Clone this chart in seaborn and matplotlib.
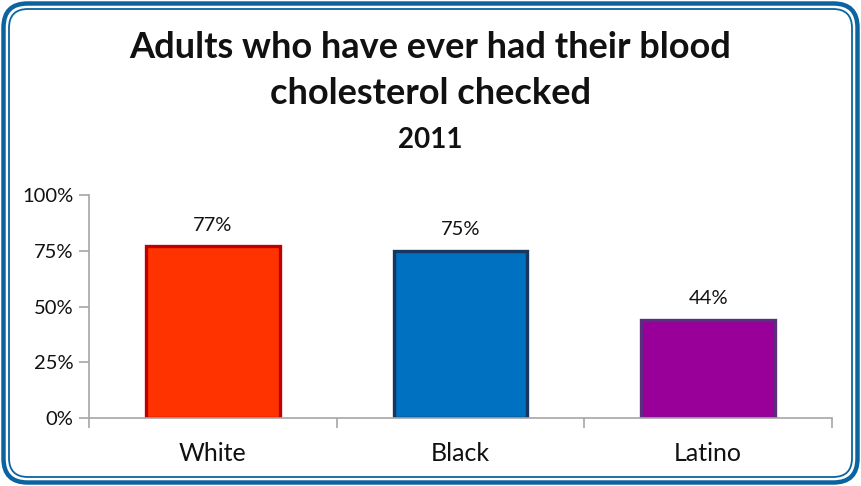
import matplotlib
matplotlib.use("Agg")
import matplotlib.pyplot as plt
from matplotlib.patches import FancyBboxPatch
from matplotlib.ticker import FixedLocator, NullFormatter
import seaborn as sns
import pandas as pd

groups = ["White", "Black", "Latino"]
shares = [77, 75, 44]
fill_colors = ["#ff3300", "#0070c0", "#990099"]
edge_colors = ["#c00000", "#17375e", "#5c2d7e"]
y_ticks = [0, 25, 50, 75, 100]
y_tick_labels = ["0%", "25%", "50%", "75%", "100%"]

sns.set_theme(style="white")
plt.rcParams["font.family"] = ["Lato", "DejaVu Sans"]

W, H = 861, 486
fig = plt.figure(figsize=(W / 100, H / 100), dpi=100)

# rounded double frame around the whole chart
bg = fig.add_axes([0, 0, 1, 1])
bg.set_xlim(0, W)
bg.set_ylim(0, H)
bg.axis("off")
bg.add_patch(FancyBboxPatch((3.5, 3.5), W - 7, H - 7,
                            boxstyle="round,pad=0,rounding_size=24",
                            fill=False, ec="#0b64a0", lw=3.2))
bg.add_patch(FancyBboxPatch((9, 9), W - 18, H - 18,
                            boxstyle="round,pad=0,rounding_size=19",
                            fill=False, ec="#0b64a0", lw=1.3))

ax = fig.add_axes([89 / W, 1 - 418 / H, (832 - 89) / W, (418 - 195) / H])
df = pd.DataFrame({"group": groups, "share": shares})
sns.barplot(data=df, x="group", y="share", hue="group", palette=fill_colors,
            width=0.54, legend=False, ax=ax, saturation=1)

for patch, ec, val in zip(ax.patches, edge_colors, shares):
    patch.set_edgecolor(ec)
    patch.set_linewidth(2.4)
    ax.annotate(f"{val}%", (patch.get_x() + patch.get_width() / 2, val),
                xytext=(0, 9), textcoords="offset points",
                ha="center", va="bottom", fontsize=14.5, color="#111111")

ax.set_xlim(-0.5, 2.5)
ax.set_ylim(0, 100)
ax.set_yticks(y_ticks)
ax.set_yticklabels(y_tick_labels, fontsize=14.5, color="#111111")
ax.set_xticks(range(len(groups)))
ax.set_xticklabels(groups, fontsize=18, color="#111111")
ax.set_xlabel("")
ax.set_ylabel("")

ax.xaxis.set_minor_locator(FixedLocator([-0.5, 0.5, 1.5, 2.5]))
ax.xaxis.set_minor_formatter(NullFormatter())
ax.tick_params(axis="x", which="major", length=0, pad=17)
ax.tick_params(axis="x", which="minor", bottom=True, length=7, width=1.2,
               color="#a6a6a6", direction="out")
ax.tick_params(axis="y", left=True, length=7, width=1.2, color="#a6a6a6",
               direction="out", pad=4)

for side in ["top", "right"]:
    ax.spines[side].set_visible(False)
for side in ["left", "bottom"]:
    ax.spines[side].set_color("#a6a6a6")
    ax.spines[side].set_linewidth(1.2)
ax.set_facecolor("none")

fig.text(0.5, 1 - 47 / H, "Adults who have ever had their blood",
         ha="center", va="center", fontsize=26, fontweight="bold", color="#111111")
fig.text(0.5, 1 - 93 / H, "cholesterol checked",
         ha="center", va="center", fontsize=26, fontweight="bold", color="#111111")
fig.text(0.5, 1 - 140 / H, "2011",
         ha="center", va="center", fontsize=20, fontweight="bold", color="#111111")

fig.savefig("out.png", dpi=100, facecolor="white")
